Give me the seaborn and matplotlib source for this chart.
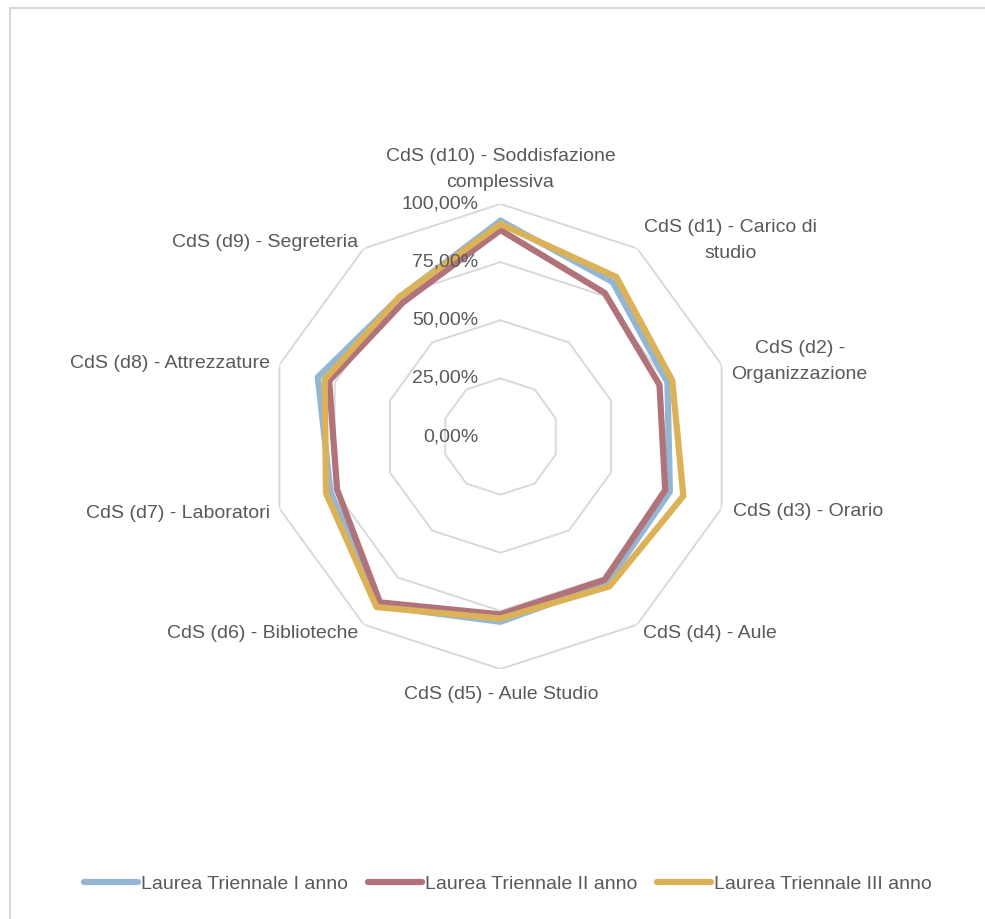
import numpy as np
import pandas as pd
import seaborn as sns
import matplotlib.pyplot as plt
import matplotlib.patches as patches

# categories in clockwise order, starting at the top
categories = ["CdS (d10) - Soddisfazione\ncomplessiva", "CdS (d1) - Carico di\nstudio",
              "CdS (d2) -\nOrganizzazione", "CdS (d3) - Orario", "CdS (d4) - Aule",
              "CdS (d5) - Aule Studio", "CdS (d6) - Biblioteche", "CdS (d7) - Laboratori",
              "CdS (d8) - Attrezzature", "CdS (d9) - Segreteria"]
series_names = ["Laurea Triennale I anno", "Laurea Triennale II anno", "Laurea Triennale III anno"]
anno1 = [0.928, 0.821, 0.755, 0.766, 0.780, 0.797, 0.900, 0.769, 0.826, 0.740]
anno2 = [0.888, 0.763, 0.719, 0.745, 0.762, 0.765, 0.882, 0.739, 0.775, 0.713]
anno3 = [0.914, 0.848, 0.777, 0.827, 0.797, 0.783, 0.907, 0.789, 0.795, 0.741]
ticks = [0.0, 0.25, 0.5, 0.75, 1.0]
tick_labels = ["0,00%", "25,00%", "50,00%", "75,00%", "100,00%"]
colors = ["#94B6D5", "#B1737A", "#DCB259"]

sns.set_style("white")
plt.rcParams['font.family'] = ['Liberation Sans', 'DejaVu Sans']
fs = 14
txt_col = "#595959"
grid_col = "#D9D9D9"

W, H = 985, 919
fig = plt.figure(figsize=(W / 100, H / 100), dpi=100)

# chart frame (only left and top edges visible in the crop)
fig.add_artist(patches.Rectangle((10 / W, -0.5), 1.5, 0.5 + 1 - 8 / H, transform=fig.transFigure,
                                 fill=False, edgecolor=grid_col, linewidth=1.5))

cx, cy, R = 500.5, 436.5, 232.5
ax = fig.add_axes([(cx - R) / W, (H - cy - R) / H, 2 * R / W, 2 * R / H], projection='polar')
ax.set_theta_zero_location('N')
ax.set_theta_direction(-1)
ax.set_ylim(0, 1)
ax.grid(False)
ax.spines['polar'].set_visible(False)
ax.set_xticks([])
ax.set_yticks([])
ax.patch.set_alpha(0)

n = len(categories)
theta = np.linspace(0, 2 * np.pi, n, endpoint=False)
theta_closed = np.append(theta, 2 * np.pi)

# decagon gridlines
for t in ticks[1:]:
    ax.plot(theta_closed, [t] * (n + 1), color=grid_col, lw=1.4, zorder=1)

rows = []
for name, vals in zip(series_names, [anno1, anno2, anno3]):
    closed = list(vals) + [vals[0]]
    for th, v in zip(theta_closed, closed):
        rows.append({"theta": th, "value": v, "serie": name})
df = pd.DataFrame(rows)

sns.lineplot(data=df, x="theta", y="value", hue="serie", palette=colors, sort=False,
             estimator=None, linewidth=4.5, ax=ax, zorder=3)
for ln in ax.lines[len(ticks) - 1:]:
    ln.set_solid_joinstyle('round')
    ln.set_solid_capstyle('round')
ax.set_xlabel("")
ax.set_ylabel("")

# radial tick labels
for t, lab in zip(ticks, tick_labels):
    ax.annotate(lab, xy=(0, t), xytext=(-22, 0), textcoords='offset pixels',
                ha='right', va='center', fontsize=fs, color=txt_col)

# category labels
label_pos = [('center', 'bottom', 0, 13), ('left', 'center', 7, 8), ('left', 'center', 10, 3),
             ('left', 'center', 11, -3), ('left', 'center', 6, -9), ('center', 'top', 1, -17),
             ('right', 'center', -6, -9), ('right', 'center', -9, -5), ('right', 'center', -9, 1),
             ('right', 'center', -6, 6)]
for th, lab, (ha, va, dx, dy) in zip(theta, categories, label_pos):
    a = ax.annotate(lab, xy=(th, 1.0), xytext=(dx, dy), textcoords='offset pixels',
                    ha=ha, va=va, multialignment='center', fontsize=fs, color=txt_col)
    a.set_linespacing(1.67)

handles, labels = ax.get_legend_handles_labels()
ax.get_legend().remove()
for h in handles:
    h.set_linewidth(4.5)
    h.set_solid_capstyle('round')
leg = fig.legend(handles, labels, loc='center', bbox_to_anchor=(508 / W, 1 - 884 / H), ncol=3,
                 frameon=False, fontsize=fs, handlelength=2.8, handletextpad=0.15,
                 columnspacing=1.0)
for t in leg.get_texts():
    t.set_color(txt_col)

fig.savefig("out.png", dpi=100)
